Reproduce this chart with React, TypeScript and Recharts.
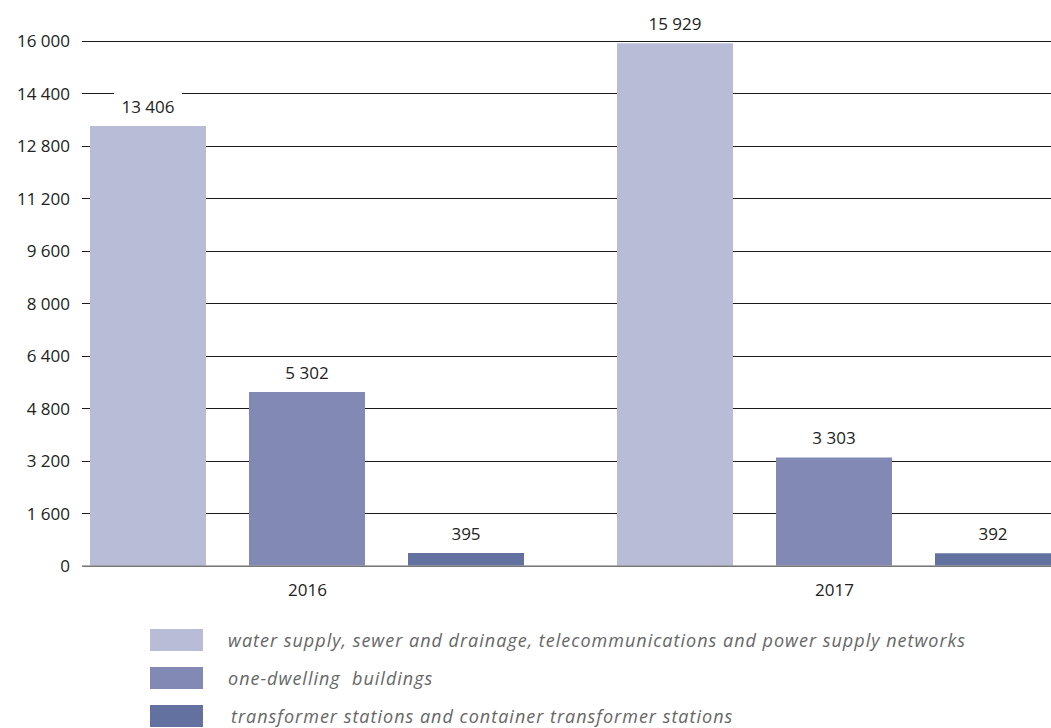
import React from "react"
import { BarChart, Bar, XAxis, YAxis, CartesianGrid, LabelList } from "recharts"

const years = ["2016", "2017"]
const networks = [13406, 15929]
const dwellings = [5302, 3303]
const transformers = [395, 392]
const yTicks = [0, 1600, 3200, 4800, 6400, 8000, 9600, 11200, 12800, 14400, 16000]

const seriesNames = [
  "water supply, sewer and drainage, telecommunications and power supply networks",
  "one-dwelling  buildings",
  "transformer stations and container transformer stations",
]
const colors = ["#b8bcd7", "#8289b4", "#6271a0"]

const FONT = "'Open Sans', 'Noto Sans', sans-serif"

const fmt = (v: number) => String(v).replace(/\B(?=(\d{3})+(?!\d))/g, " ")

const data = years.map((y, i) => ({
  year: y,
  networks: networks[i],
  dwellings: dwellings[i],
  transformers: transformers[i],
}))

// label with a white box behind it, so it cuts the grid line like the original
function BoxLabel(props: any) {
  const { x, y, width, value } = props
  const text = fmt(value)
  const cx = x + width / 2
  const cy = y - 20
  const w = text.length * 10 + 8
  return (
    <g>
      <rect x={cx - w / 2} y={cy - 14} width={w} height={28} fill="#fff" />
      <text
        x={cx}
        y={cy}
        textAnchor="middle"
        dominantBaseline="central"
        fontSize={17}
        fontFamily={FONT}
        fill="#222"
      >
        {text}
      </text>
    </g>
  )
}

export default function App() {
  return (
    <div
      style={{
        position: "absolute",
        left: 0,
        top: 0,
        width: 1051,
        height: 728,
        overflow: "hidden",
        background: "#fff",
      }}
    >
      <BarChart
        width={1100}
        height={610}
        data={data}
        margin={{ top: 41, right: 2, left: 0, bottom: 14 }}
        barCategoryGap={46}
        barGap={43}
      >
        <CartesianGrid vertical={false} stroke="#1a1a1a" strokeWidth={1} shapeRendering="crispEdges" />
        <XAxis
          dataKey="year"
          padding={{ left: -38, right: 0 }}
          axisLine={{ stroke: "#999", strokeWidth: 1.5 }}
          tickLine={false}
          tickSize={0}
          tickMargin={18}
          height={30}
          tick={{ fontSize: 17, fontFamily: FONT, fill: "#222" }}
        />
        <YAxis
          width={82}
          domain={[0, 16000]}
          ticks={yTicks}
          interval={0}
          axisLine={false}
          tickLine={false}
          tickSize={0}
          tickMargin={12}
          tickFormatter={fmt}
          tick={{ fontSize: 17, fontFamily: FONT, fill: "#222" }}
        />
        <Bar dataKey="networks" fill={colors[0]} isAnimationActive={false}>
          <LabelList dataKey="networks" content={BoxLabel} />
        </Bar>
        <Bar dataKey="dwellings" fill={colors[1]} isAnimationActive={false}>
          <LabelList dataKey="dwellings" content={BoxLabel} />
        </Bar>
        <Bar dataKey="transformers" fill={colors[2]} isAnimationActive={false}>
          <LabelList dataKey="transformers" content={BoxLabel} />
        </Bar>
      </BarChart>

      {seriesNames.map((name, i) => (
        <div
          key={name}
          style={{
            position: "absolute",
            left: 150,
            top: 629 + i * 38,
            height: 22,
            display: "flex",
            alignItems: "center",
          }}
        >
          <div style={{ width: 53, height: 22, background: colors[i] }} />
          <span
            style={{
              marginLeft: 25 + (i === 2 ? 3 : 0),
              fontFamily: FONT,
              fontStyle: "italic",
              fontSize: 18,
              letterSpacing: 1,
              color: "#666",
              whiteSpace: "pre",
            }}
          >
            {name}
          </span>
        </div>
      ))}
    </div>
  )
}
